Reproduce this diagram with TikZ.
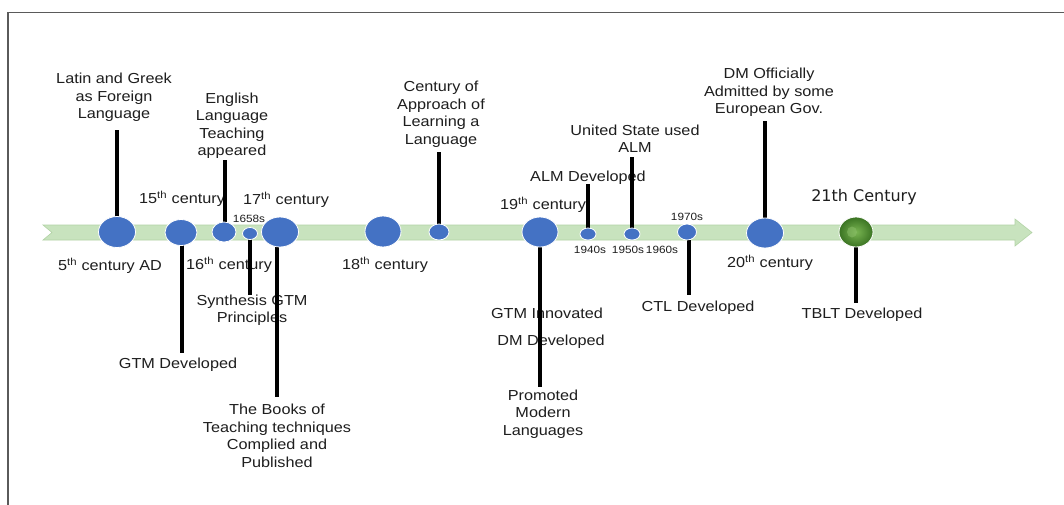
\documentclass[tikz,border=0pt]{standalone}
\usepackage{fontspec}
\setmainfont{Liberation Sans}[FakeStretch=1.12]
\newfontfamily\titlefont{DejaVu Sans}
\usetikzlibrary{shapes.geometric,calc}
\definecolor{barfill}{HTML}{C8E3BE}
\definecolor{baredge}{HTML}{B2D3A6}
\definecolor{dotblue}{HTML}{4472C4}
\definecolor{txt}{HTML}{1E1E1E}
\definecolor{framegray}{HTML}{5A5A5A}
\definecolor{ballouter}{HTML}{3A7322}
\definecolor{ballinner}{HTML}{79B552}
\tikzset{
  dot/.style={ellipse, fill=dotblue, draw=white, line width=0.8pt, inner sep=0pt},
  stem/.style={line width=3.2pt, black},
  lbl/.style={align=center, inner sep=0pt, text=txt, font=\fontsize{14.5}{17.5}\selectfont},
  small/.style={inner sep=0pt, text=txt, font=\fontsize{10.5}{12}\selectfont},
}
\newcommand{\cent}[1]{#1\textsuperscript{th}}
\begin{document}
\begin{tikzpicture}[x=1pt,y=-1pt]
\useasboundingbox (0,0) rectangle (1064,504);
\fill[white] (0,0) rectangle (1064,504);
% frame
\draw[framegray, line width=1.8pt] (8,520) -- (8,12.5) -- (1080,12.5);
% timeline bar
\fill[barfill, draw=baredge, line width=0.6pt] (43,225) -- (1015,225) -- (1015,219) -- (1032,232.5)
  -- (1015,246) -- (1015,240) -- (43,240) -- (52,232.5) -- cycle;

% labels
\node[lbl] (l1) at (114,97.5) {Latin and Greek\\as Foreign\\Language};
\node[lbl] (l3) at (232,125.5) {English\\Language\\Teaching\\appeared};
\node[lbl] (l2a) at (182,199) {\cent{15} century};
\node[lbl] (l5a) at (286,200) {\cent{17} century};
\node[small] (l4a) at (249,219) {1658s};
\node[lbl] (l1b) at (110,266) {\cent{5} century AD};
\node[lbl] (l3b) at (229,265) {\cent{16} century};
\node[lbl] (l4) at (252,310) {Synthesis GTM\\Principles};
\node[lbl] (l2) at (178,365) {GTM Developed};
\node[lbl] (l5) at (277,436) {The Books of\\Teaching techniques\\Complied and\\Published};
\node[lbl] (l6) at (385,265) {\cent{18} century};
\node[lbl] (l7) at (441,114.5) {Century of\\Approach of\\Learning a\\Language};
\node[lbl] (l8a) at (543,205) {\cent{19} century};
\node[lbl] (l9) at (588,178) {ALM Developed};
\node[lbl] (l10) at (635,138.5) {United State used\\ALM};
\node[small] (l9b) at (590,250) {1940s};
\node[small] (l10b) at (628,250) {1950s};
\node[small] (l10c) at (662,250) {1960s};
\node[small] (l11a) at (687,217) {1970s};
\node[lbl] (l8b) at (547,313) {GTM Innovated};
\node[lbl] (l8c) at (551,342) {DM Developed};
\node[lbl] (l8) at (543,414) {Promoted\\Modern\\Languages};
\node[lbl] (l11) at (698,308) {CTL Developed};
\node[lbl] (l12) at (769,92.5) {DM Officially\\Admitted by some\\European Gov.};
\node[lbl] (l12b) at (770,263) {\cent{20} century};
\node[inner sep=0pt, text=txt, font=\titlefont\fontsize{16}{18}\selectfont] (l13a) at (864,197) {21th Century};
\node[lbl] (l13) at (862,315) {TBLT Developed};

% stem ends
\coordinate (e1) at (117,130);
\coordinate (e2) at (182,353);
\coordinate (e3) at (225,160);
\coordinate (e4) at (250,295);
\coordinate (e5) at (277,397);
\coordinate (e7) at (439,152);
\coordinate (e8) at (540,387);
\coordinate (e9) at (588,184);
\coordinate (e10) at (632,157);
\coordinate (e11) at (689,295);
\coordinate (e12) at (765,121);
\coordinate (e13) at (856,303);

% dot positions
\coordinate (p1) at (117,232);
\coordinate (p2) at (181,232.5);
\coordinate (p3) at (224,232);
\coordinate (p4) at (250,233.5);
\coordinate (p5) at (280,232);
\coordinate (p6) at (383,231.5);
\coordinate (p7) at (439,232);
\coordinate (p8) at (540,232);
\coordinate (p9) at (588,234);
\coordinate (p10) at (632,234);
\coordinate (p11) at (687,232);
\coordinate (p12) at (765,233);
\coordinate (p13) at (856,232);

% stems
\foreach \i in {1,2,3,4,5,7,8,9,10,11,12,13}{
  \draw[stem] (e\i |- p\i) -- (e\i);
}

% dots
\node[dot, minimum width=37pt, minimum height=31pt] (c1) at (p1) {};
\node[dot, minimum width=32pt, minimum height=26pt] (c2) at (p2) {};
\node[dot, minimum width=24pt, minimum height=20pt] (c3) at (p3) {};
\node[dot, minimum width=15pt, minimum height=12pt] (c4) at (p4) {};
\node[dot, minimum width=37pt, minimum height=30pt] (c5) at (p5) {};
\node[dot, minimum width=36pt, minimum height=31pt] (c6) at (p6) {};
\node[dot, minimum width=20pt, minimum height=16pt] (c7) at (p7) {};
\node[dot, minimum width=36pt, minimum height=30pt] (c8) at (p8) {};
\node[dot, minimum width=16pt, minimum height=12pt] (c9) at (p9) {};
\node[dot, minimum width=16pt, minimum height=12pt] (c10) at (p10) {};
\node[dot, minimum width=19pt, minimum height=16pt] (c11) at (p11) {};
\node[dot, minimum width=37pt, minimum height=30pt] (c12) at (p12) {};
\node[ellipse, inner sep=0pt, minimum width=34pt, minimum height=30pt, draw=white, line width=0.8pt,
  inner color=ballinner, outer color=ballouter] (c13) at (p13) {};
\fill[ballinner!85!white, opacity=0.5] ($(p13)+(-4,0)$) ellipse (5pt and 5.5pt);
\end{tikzpicture}
\end{document}
